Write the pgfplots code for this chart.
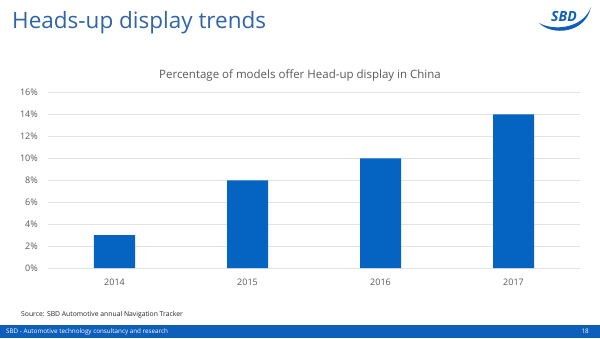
\documentclass[border=0pt]{standalone}
\usepackage{pgfplots}
\pgfplotsset{compat=1.18}
\usepackage{fontspec}
\setmainfont{Open Sans}
\definecolor{titleblue}{HTML}{2F64A9}
\definecolor{barblue}{HTML}{0563C1}
\definecolor{footblue}{HTML}{0E5FBA}
\definecolor{txtgray}{HTML}{595959}
\definecolor{gridgray}{HTML}{E3E3E3}
\begin{document}
\begin{tikzpicture}[x=1pt,y=1pt]
\useasboundingbox (0,0) rectangle (600,338);
\fill[white] (0,0) rectangle (600,338);
% title
\node[anchor=base west, inner sep=0pt, text=titleblue, font=\fontsize{22.5}{27}\selectfont] at (12,309) {Heads-up display trends};
% logo
\node[anchor=center, inner sep=0pt, text=footblue, font=\fontsize{14}{16}\selectfont\bfseries\itshape] at (564,321) {SBD};
\fill[footblue] (539,315) .. controls (552,302) and (585,304) .. (591,331)
  .. controls (583,309) and (553,307) .. (539,315) -- cycle;
% chart title
\node[anchor=center, inner sep=0pt, text=txtgray, font=\fontsize{11.5}{14}\selectfont] at (300,263) {Percentage of models offer Head-up display in China};
% footer
\fill[footblue] (0,0) rectangle (600,13);
\node[anchor=west, inner sep=0pt, text=white, font=\fontsize{6.3}{8}\selectfont] at (6,6.3) {SBD - Automotive technology consultancy and research};
\node[anchor=east, inner sep=0pt, text=white, font=\fontsize{6.3}{8}\selectfont] at (589,6.3) {18};
% source
\node[anchor=west, inner sep=0pt, text=black!85, font=\fontsize{6.8}{9}\selectfont] at (21,23.5) {Source: SBD Automotive annual Navigation Tracker};
\begin{axis}[
  at={(48pt,70pt)}, anchor=south west,
  scale only axis, width=532pt, height=175.5pt,
  xmin=-0.5, xmax=3.5, ymin=0, ymax=16,
  axis line style={draw=none},
  major tick length=0pt,
  xtick=data, xticklabels={2014,2015,2016,2017},
  ytick={0,2,...,16},
  yticklabel={\pgfmathprintnumber{\tick}\%},
  ymajorgrids, grid style={color=gridgray, line width=0.7pt},
  /pgf/number format/assume math mode=true,
  yticklabel style={inner sep=0pt, xshift=-10pt, text=txtgray, font=\fontsize{9}{11}\selectfont},
  xticklabel style={inner sep=0pt, yshift=-11pt, text=txtgray, font=\fontsize{9}{11}\selectfont},
  ybar, bar width=41pt,
  clip=false,
]
\addplot[draw=none, fill=barblue, bar shift=0pt] coordinates {(0,3) (1,8) (2,10) (3,14)};
\end{axis}
\end{tikzpicture}
\end{document}
